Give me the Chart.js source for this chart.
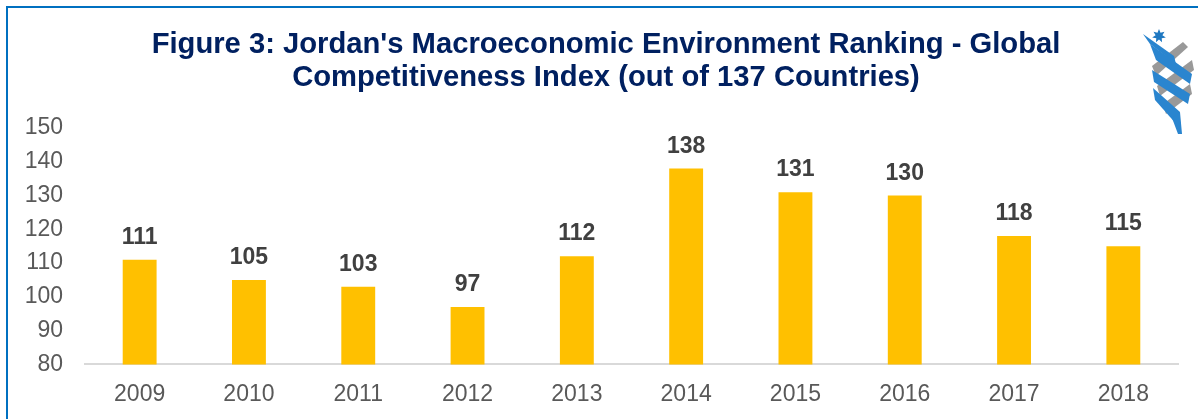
<!DOCTYPE html>
<html>
<head>
<meta charset="utf-8">
<script src="https://cdn.jsdelivr.net/npm/chart.js@4.4.1/dist/chart.umd.min.js"></script>
<style>
  html, body { margin: 0; padding: 0; background: #ffffff; }
  #wrap { position: relative; width: 1203px; height: 419px; }
  #frame { position: absolute; left: 6px; top: 6px; width: 1192px; height: 413px;
           border-left: 2px solid #0070C0; border-top: 2px solid #0070C0; box-sizing: border-box; }
  canvas { position: absolute; left: 0; top: 0; }
</style>
</head>
<body>
<div id="wrap">
  <div id="frame"></div>
  <canvas id="c" width="1203" height="419"></canvas>
</div>
<script>
const categories = ['2009', '2010', '2011', '2012', '2013', '2014', '2015', '2016', '2017', '2018'];
const rankings = [111, 105, 103, 97, 112, 138, 131, 130, 118, 115];
const titleLines = ["Figure 3: Jordan's Macroeconomic Environment Ranking - Global", "Competitiveness Index (out of 137 Countries)"];

const FONT = '"Liberation Sans", Arial, sans-serif';

const titlePlugin = {
  id: 'titlePlugin',
  afterDraw(chart) {
    const ctx = chart.ctx;
    ctx.save();
    ctx.font = 'bold 29.2px ' + FONT;
    ctx.fillStyle = '#002060';
    ctx.textAlign = 'center';
    ctx.textBaseline = 'alphabetic';
    ctx.fillText(titleLines[0], 606, 53);
    ctx.fillText(titleLines[1], 606, 86);
    ctx.restore();
  }
};

const valueLabels = {
  id: 'valueLabels',
  afterDatasetsDraw(chart) {
    const ctx = chart.ctx;
    const meta = chart.getDatasetMeta(0);
    ctx.save();
    ctx.font = 'bold 23px ' + FONT;
    ctx.fillStyle = '#404040';
    ctx.textAlign = 'center';
    ctx.textBaseline = 'alphabetic';
    meta.data.forEach((bar, i) => {
      ctx.fillText(String(chart.data.datasets[0].data[i]), bar.x, bar.y - 16);
    });
    ctx.restore();
  }
};

const logo = {
  id: 'logo',
  afterDraw(chart) {
    const ctx = chart.ctx;
    ctx.save();
    const cx = 1159, cy = 36, r1 = 7, r2 = 3.5;
    ctx.fillStyle = '#1f78c1';
    ctx.beginPath();
    for (let i = 0; i < 14; i++) {
      const a = -Math.PI / 2 + i * Math.PI / 7;
      const r = i % 2 === 0 ? r1 : r2;
      const x = cx + r * Math.cos(a), y = cy + r * Math.sin(a);
      if (i === 0) ctx.moveTo(x, y); else ctx.lineTo(x, y);
    }
    ctx.closePath();
    ctx.fill();
    const band = (pts, color) => {
      ctx.fillStyle = color;
      ctx.beginPath();
      ctx.moveTo(pts[0][0], pts[0][1]);
      for (let k = 1; k < pts.length; k++) ctx.lineTo(pts[k][0], pts[k][1]);
      ctx.closePath();
      ctx.fill();
    };
    band([[1183, 42], [1188, 47], [1156, 76], [1152, 66]], '#999999');
    band([[1192, 60], [1194, 70], [1160, 96], [1157, 86]], '#999999');
    band([[1190, 84], [1192, 94], [1166, 114], [1163, 104]], '#999999');
    band([[1143, 34], [1150, 44], [1176, 64], [1174, 56]], '#2a85cf');
    band([[1150, 44], [1156, 60], [1190, 84], [1192, 74]], '#2a85cf');
    band([[1152, 70], [1154, 82], [1188, 104], [1190, 94]], '#2a85cf');
    band([[1153, 88], [1155, 100], [1178, 126], [1180, 112]], '#2a85cf');
    band([[1172, 118], [1180, 112], [1182, 134], [1178, 134]], '#2a85cf');
    ctx.restore();
  }
};

new Chart(document.getElementById('c'), {
  type: 'bar',
  data: {
    labels: categories,
    datasets: [{
      data: rankings,
      backgroundColor: '#FFC000',
      borderWidth: 0,
      categoryPercentage: 1.0,
      barPercentage: 0.31
    }]
  },
  options: {
    responsive: false,
    animation: false,
    devicePixelRatio: 1,
    layout: { padding: { left: 0, right: 25, top: 128, bottom: 3 } },
    plugins: {
      legend: { display: false },
      tooltip: { enabled: false },
      title: { display: false }
    },
    scales: {
      x: {
        grid: { display: false },
        border: { display: true, color: '#d9d9d9', width: 2 },
        ticks: { color: '#595959', font: { family: FONT, size: 23 }, padding: 8 }
      },
      y: {
        min: 80, max: 150,
        grid: { display: false },
        border: { display: false },
        afterFit(scale) { scale.width = 85; },
        ticks: { stepSize: 10, color: '#595959', font: { family: FONT, size: 23 }, padding: 14 }
      }
    }
  },
  plugins: [valueLabels, titlePlugin, logo]
});
</script>
</body>
</html>
